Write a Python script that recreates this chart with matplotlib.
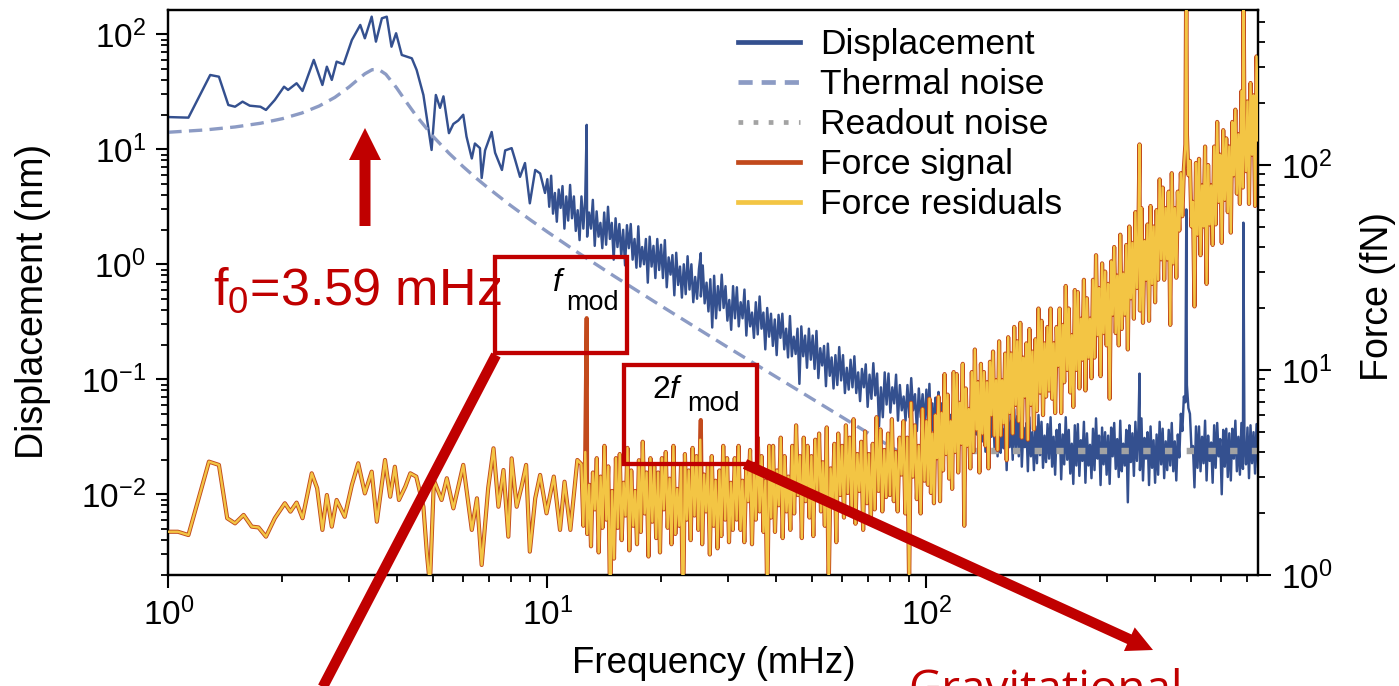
import numpy as np
import matplotlib
matplotlib.use("Agg")
import matplotlib.pyplot as plt
from matplotlib.patches import Rectangle, FancyArrow
from matplotlib.lines import Line2D

plt.rcParams.update({
    "font.family": ["Liberation Sans", "DejaVu Sans"],
    "mathtext.fontset": "custom",
    "mathtext.rm": "Liberation Sans",
    "mathtext.it": "Liberation Sans:italic",
    "mathtext.default": "regular",
    "axes.linewidth": 1.6,
})

# ---------------- data ----------------
# Displacement, low-frequency part: frequencies (mHz) and log10(nm)
disp_lf_freq = [1.00, 1.13, 1.29, 1.36, 1.44, 1.50, 1.57, 1.64, 1.75, 1.81,
                1.91, 2.02, 2.07, 2.18, 2.26, 2.42, 2.55, 2.62, 2.70, 2.78,
                2.90, 3.05, 3.21, 3.30, 3.44, 3.53, 3.66, 3.77, 3.88, 3.99,
                4.13, 4.39, 4.52, 4.71, 4.95, 5.08, 5.21, 5.32, 5.50, 5.65,
                5.82, 6.00, 6.12, 6.32, 6.44, 6.64, 6.71, 6.85, 7.13, 7.28,
                7.59, 7.74, 8.05, 8.22, 8.47, 8.73, 8.99, 9.29, 9.57, 9.86]
disp_lf_log10 = [1.28, 1.275, 1.646, 1.631, 1.385, 1.370, 1.414, 1.379, 1.370, 1.342,
                 1.429, 1.544, 1.516, 1.574, 1.507, 1.777, 1.559, 1.718, 1.603, 1.762,
                 1.739, 1.950, 2.081, 1.965, 2.153, 1.936, 2.139, 2.153, 1.892, 2.009,
                 1.820, 1.791, 1.690, 1.472, 0.994, 1.472, 1.36, 1.46, 1.14, 1.22,
                 1.25, 1.30, 1.11, 0.92, 1.05, 1.01, 0.75, 0.99, 1.15, 0.97,
                 0.82, 0.99, 1.01, 0.91, 0.76, 0.88, 0.53, 0.82, 0.79, 0.62]
# Displacement 10-100 mHz (log-spaced samples), log10(nm)
disp_mid_log10 = [
    0.74, 0.50, 0.77, 0.44, 0.62, 0.37, 0.65, 0.49, 0.68, 0.31, 0.59, 0.38, 0.69, 0.40, 0.59, 0.29, 0.47, 0.21, 0.59, 0.31,
    0.58, 0.24, 0.45, 0.31, 0.56, 0.16, 0.46, 0.24, 0.36, 0.14, 0.45, 0.17, 0.50, 0.22, 0.36, 0.04, 0.40, 0.15, 0.35, 0.07,
    0.30, -0.01, 0.34, 0.14, 0.35, 0.04, 0.22, -0.03, 0.33, -0.02, 0.15, 0.00, 0.22, -0.16, 0.24, -0.02, 0.16, -0.12, 0.22, -0.05,
    0.17, -0.12, 0.21, -0.20, 0.06, -0.09, 0.08, -0.27, 0.10, -0.18, -0.02, -0.29, 0.00, -0.26, 0.07, -0.22, 0.00, -0.33, -0.11, -0.30,
    -0.04, -0.28, -0.01, -0.34, -0.16, -0.41, -0.13, -0.55, -0.10, -0.47, -0.19, -0.40, -0.09, -0.38, -0.19, -0.49, -0.31, -0.57, -0.19, -0.47,
    -0.20, -0.54, -0.33, -0.47, -0.22, -0.62, -0.32, -0.54, -0.42, -0.64, -0.33, -0.61, -0.28, -0.56, -0.42, -0.74, -0.38, -0.63, -0.43, -0.71,
    -0.48, -0.79, -0.44, -0.64, -0.43, -0.74, -0.56, -0.81, -0.45, -0.80, -0.63, -0.78, -0.56, -1.04, -0.54, -0.80, -0.62, -0.90, -0.56, -0.83,
    -0.62, -0.91, -0.58, -0.99, -0.73, -0.88, -0.71, -1.06, -0.69, -0.97, -0.81, -1.08, -0.79, -1.05, -0.72, -1.01, -0.79, -1.12, -0.90, -1.09,
    -0.83, -1.07, -0.80, -1.12, -0.94, -1.19, -0.91, -1.07, -0.87, -1.24, -0.96, -1.17, -0.86, -1.14, -0.95, -1.41, -1.07, -1.33, -0.94, -1.22,
    -0.95, -1.29, -1.07, -1.21, -0.96, -1.36, -1.05, -1.27, -1.15, -1.36, -1.05, -1.33, -0.99, -1.27, -1.13, -1.45, -1.08, -1.33, -1.13, -1.40]
# Displacement 100-750 mHz (log-spaced samples), log10(nm)
disp_hi_log10 = [
    -1.09, -1.39, -1.04, -1.45, -1.21, -1.53, -1.16, -1.36, -1.11, -1.57, -1.21, -1.47, -1.07, -1.43, -1.18, -1.55, -1.31, -1.64, -1.15, -1.50,
    -1.14, -1.56, -1.29, -1.46, -1.14, -1.63, -1.24, -1.51, -1.35, -1.62, -1.22, -1.56, -1.14, -1.48, -1.30, -1.69, -1.23, -1.54, -1.28, -1.63,
    -1.32, -1.70, -1.26, -1.50, -1.22, -1.61, -1.37, -1.67, -1.22, -1.64, -1.43, -1.60, -1.31, -1.79, -1.28, -1.59, -1.36, -1.70, -1.26, -1.60,
    -1.32, -1.67, -1.25, -1.76, -1.42, -1.59, -1.38, -1.80, -1.33, -1.67, -1.46, -1.79, -1.41, -1.73, -1.31, -1.66, -1.37, -1.77, -1.49, -1.72,
    -1.39, -1.69, -1.33, -1.76, -1.50, -1.83, -1.44, -1.64, -1.39, -1.87, -1.48, -1.74, -1.33, -1.70, -1.44, -1.82, -1.56, -1.91, -1.40, -1.75,
    -1.39, -1.84, -1.53, -1.71, -1.37, -1.90, -1.47, -1.75, -1.57, -1.86, -1.43, -1.79, -1.34, -1.69, -1.49, -1.92, -1.42, -1.74, -1.46, -1.83,
    -1.49, -1.91, -1.42, -1.67, -1.38, -1.78, -1.52, -1.85, -1.36, -1.80, -1.56, -1.75, -1.44, -2.07, -1.40, -1.72, -1.47, -1.84, -1.37, -1.71,
    -1.42, -1.79, -1.34, -1.88, -1.51, -1.69, -1.46, -1.92, -1.41, -1.77, -1.53, -1.90, -1.48, -1.83, -1.37, -1.74, -1.43, -1.86, -1.54, -1.79,
    -1.44, -1.75, -1.38, -1.80, -1.54, -1.88, -1.48, -1.68, -1.30, -1.45, -1.15, -1.20, -1.05, -1.25, -1.30, -1.60, -1.58, -1.94, -1.41, -1.77,
    -1.41, -1.80, -1.50, -1.73, -1.36, -1.88, -1.49, -1.71, -1.55, -1.90, -1.40, -1.77, -1.38, -1.67, -1.52, -2.00, -1.44, -1.76, -1.43, -1.85,
    -1.47, -1.88, -1.43, -1.69, -1.36, -1.80, -1.50, -1.83, -1.38, -1.78, -1.55, -1.74, -1.42, -1.86, -1.40, -1.73, -1.46, -1.82, -1.39, -1.76]

# Force, low-frequency part: frequencies (mHz) and log10(fN)
force_lf_freq = [1.00, 1.06, 1.13, 1.28, 1.36, 1.43, 1.50, 1.58, 1.66, 1.73,
                 1.81, 1.91, 2.03, 2.10, 2.18, 2.26, 2.39, 2.47, 2.55, 2.62,
                 2.70, 2.78, 2.92, 3.05, 3.17, 3.30, 3.44, 3.55, 3.73, 3.85,
                 3.96, 4.06, 4.22, 4.35, 4.51, 4.71, 4.81, 4.90, 5.02, 5.26,
                 5.43, 5.65, 6.00, 6.32, 6.52, 6.71, 6.98, 7.21, 7.43, 7.66,
                 7.89, 8.05, 8.30, 8.55, 8.79, 8.99, 9.29, 9.57, 9.95, 10.4,
                 10.8, 11.1, 11.5, 12.0]
force_lf_log10 = [0.211, 0.211, 0.195, 0.553, 0.537, 0.277, 0.252, 0.293, 0.236, 0.232,
                  0.187, 0.277, 0.350, 0.309, 0.353, 0.277, 0.496, 0.423, 0.220, 0.390,
                  0.236, 0.366, 0.284, 0.439, 0.545, 0.398, 0.504, 0.260, 0.561, 0.382,
                  0.528, 0.366, 0.431, 0.496, 0.480, 0.333, 0.106, -0.05, 0.463, 0.366,
                  0.472, 0.325, 0.537, 0.220, 0.374, 0.049, 0.423, 0.618, 0.333, 0.512,
                  0.187, 0.569, 0.333, 0.431, 0.537, 0.114, 0.374, 0.488, 0.301, 0.480,
                  0.220, 0.455, 0.220, 0.561]
# Force 12.3-100 mHz (log-spaced samples), log10(fN)
force_mid_log10 = [
    0.54, 0.24, 0.60, 0.20, 0.44, 0.14, 0.50, 0.32, 0.57, 0.11, 0.48, 0.23, 0.63, 0.27, 0.53, -0.18, 0.41, 0.08, 0.57, 0.23,
    0.59, 0.17, 0.45, 0.29, 0.62, 0.12, 0.51, 0.24, 0.41, 0.15, 0.56, 0.21, 0.65, 0.30, 0.50, 0.09, 0.57, 0.26, 0.53, 0.18,
    0.50, 0.11, 0.57, 0.32, 0.60, 0.23, 0.47, 0.15, 0.63, 0.20, 0.42, 0.24, 0.54, -0.26, 0.59, 0.27, 0.51, 0.17, 0.62, 0.29,
    0.58, 0.22, 0.66, 0.15, 0.49, 0.31, 0.54, 0.10, 0.58, 0.24, 0.46, 0.13, 0.51, 0.19, 0.63, 0.27, 0.57, 0.16, 0.45, 0.22,
    0.57, 0.27, 0.63, 0.22, 0.46, 0.16, 0.52, 0.36, 0.61, 0.15, 0.52, 0.27, 0.67, 0.31, 0.58, 0.21, 0.46, -0.13, 0.63, 0.28,
    0.63, 0.21, 0.51, 0.34, 0.67, 0.18, 0.58, 0.31, 0.48, 0.22, 0.63, 0.30, 0.73, 0.39, 0.58, 0.18, 0.67, 0.36, 0.63, 0.28,
    0.58, 0.19, 0.66, 0.40, 0.69, 0.31, 0.55, 0.24, 0.72, -0.08, 0.52, 0.34, 0.64, 0.16, 0.69, 0.39, 0.63, 0.28, 0.73, 0.40,
    0.67, 0.31, 0.76, 0.25, 0.59, 0.41, 0.65, 0.22, 0.70, 0.35, 0.59, 0.26, 0.64, 0.32, 0.77, 0.41, 0.71, 0.31, 0.61, 0.38,
    0.69, 0.39, 0.76, 0.36, 0.60, 0.31, 0.67, 0.49, 0.75, 0.30, 0.67, -0.05, 0.84, 0.48, 0.73, 0.37, 0.63, 0.30, 0.81, 0.46]
# Force 100-750 mHz (log-spaced samples), log10(fN)
force_hi_log10 = [
    0.75, 0.44, 0.86, 0.40, 0.69, 0.35, 0.78, 0.57, 0.87, 0.36, 0.79, 0.51, 0.98, 0.59, 0.88, 0.47, 0.75, 0.42, 0.99, 0.60,
    0.98, 0.50, 0.84, 0.64, 1.03, 0.24, 0.91, 0.63, 0.81, 0.52, 0.99, 0.60, 1.10, 0.71, 0.94, 0.50, 1.03, 0.69, 0.99, 0.63,
    0.94, 0.52, 1.04, 0.78, 1.09, 0.68, 0.95, 0.61, 1.14, 0.68, 0.95, 0.74, 1.08, 0.56, 1.16, 0.79, 1.08, 0.69, 1.21, 0.83,
    1.14, 0.75, 1.23, 0.67, 1.06, 0.87, 1.13, 0.66, 1.20, 0.83, 1.09, 0.71, 1.15, 0.80, 1.30, 0.89, 1.24, 0.78, 1.13, 0.87,
    1.21, 0.90, 1.30, 0.86, 1.13, 0.79, 1.21, 1.02, 1.30, 0.79, 1.22, 0.94, 1.41, 1.00, 1.30, 0.89, 1.17, 0.82, 1.39, 1.00,
    1.38, 0.91, 1.25, 1.05, 1.44, 0.90, 1.35, 1.06, 1.25, 0.96, 1.44, 1.06, 1.56, 1.17, 1.40, 0.97, 1.52, 1.18, 1.48, 1.12,
    1.42, 0.86, 1.53, 1.27, 1.60, 1.18, 1.46, 1.12, 1.66, 1.20, 1.47, 1.27, 1.61, 1.10, 1.70, 1.35, 1.62, 1.25, 1.77, 1.40,
    1.68, 1.29, 1.79, 1.23, 1.63, 1.44, 1.71, 1.24, 1.80, 1.42, 1.70, 1.33, 1.78, 1.44, 1.93, 1.54, 1.89, 1.44, 1.79, 1.54,
    1.87, 1.22, 1.96, 1.52, 1.79, 1.45, 1.87, 1.68, 1.96, 1.75, 1.98, 2.10, 2.15, 1.95, 2.02, 1.70, 1.82, 1.31, 2.01, 1.66,
    2.03, 1.56, 1.90, 1.70, 2.09, 1.42, 2.00, 1.71, 1.90, 1.61, 2.09, 1.71, 2.21, 1.82, 2.05, 1.62, 2.17, 1.83, 2.13, 1.77,
    2.09, 1.67, 2.21, 1.95, 2.27, 1.86, 2.15, 1.81, 2.36, 1.89, 2.17, 1.97, 2.31, 1.81, 2.40, 2.05, 2.34, 1.80, 2.53, 2.12]

# Narrow lines: modulation (f_mod, 2 f_mod) and instrumental lines
mod_freq = [12.7, 25.4]
disp_mod_peak = [16.3, 1.25]      # nm
force_mod_peak = [17.9, 5.7]      # fN
line_freq = [365.0, 485.0, 686.0]
disp_line_peak = [0.112, 3.0, 2.3]         # nm
force_line_peak = [126.0, 1000.0, 1000.0]  # fN

# Thermal noise curve (mHz, log10 nm)
thermal_freq = [1.0, 1.25, 1.5, 1.75, 2.0, 2.25, 2.5, 2.75, 3.0, 3.15,
                3.3, 3.45, 3.59, 3.75, 4.0, 4.25, 4.5, 5.0, 5.5, 6.0,
                6.5, 7.0, 8.0, 9.0, 10, 12, 15, 20, 30, 40,
                50, 70, 100]
thermal_log10 = [1.148, 1.168, 1.194, 1.226, 1.266, 1.315, 1.376, 1.451, 1.542, 1.601,
                 1.656, 1.692, 1.694, 1.652, 1.535, 1.409, 1.295, 1.110, 0.966, 0.848,
                 0.747, 0.660, 0.511, 0.388, 0.282, 0.105, -0.103, -0.364, -0.724, -0.976,
                 -1.171, -1.465, -1.775]
# Readout noise floor
readout_freq = [100.0, 750.0]
readout_nm = [0.0237, 0.0237]

labels = ["Displacement", "Thermal noise", "Readout noise", "Force signal", "Force residuals"]

# ---------------- assemble series ----------------
def with_peaks(f_base, v_base, f_pk, v_pk):
    f = np.concatenate([np.asarray(f_base, float), np.asarray(f_pk, float)])
    v = np.concatenate([np.asarray(v_base, float), np.asarray(v_pk, float)])
    o = np.argsort(f, kind="stable")
    return f[o], v[o]

disp_f = np.concatenate([disp_lf_freq,
                         np.geomspace(10, 100, len(disp_mid_log10), endpoint=False),
                         np.geomspace(100, 750, len(disp_hi_log10))])
disp_v = 10 ** np.concatenate([disp_lf_log10, disp_mid_log10, disp_hi_log10])
disp_f, disp_v = with_peaks(disp_f, disp_v, mod_freq + line_freq, disp_mod_peak + disp_line_peak)

force_f = np.concatenate([force_lf_freq,
                          np.geomspace(12.3, 100, len(force_mid_log10), endpoint=False),
                          np.geomspace(100, 750, len(force_hi_log10))])
force_v = 10 ** np.concatenate([force_lf_log10, force_mid_log10, force_hi_log10])
resid_f, resid_v = with_peaks(force_f, force_v, line_freq, force_line_peak)
sig_f, sig_v = with_peaks(resid_f, resid_v, mod_freq, force_mod_peak)

thermal_v = 10 ** np.asarray(thermal_log10)

# ---------------- figure ----------------
W, H = 1399, 686
fig = plt.figure(figsize=(W / 100, H / 100), dpi=100)
ax = fig.add_axes([168.3 / W, (H - 575) / H, 1090 / W, 565 / H])
ax.set_xscale("log")
ax.set_yscale("log")
ax.set_xlim(1.0, 751)
ax.set_ylim(10 ** -2.702, 10 ** 2.211)

c_disp = "#34508f"
c_therm = "#8c9bc4"
c_read = "#a3a3a3"
c_sig = "#c24a1c"
c_res = "#f3c544"

ax.plot(disp_f, disp_v, color=c_disp, lw=1.75, zorder=2)
ax.plot(thermal_freq, thermal_v, color=c_therm, lw=2.4, ls=(0, (4, 2.2)), zorder=3)
ax.plot(readout_freq, readout_nm, color=c_read, lw=4.6, ls=(0, (1.15, 2.25)), zorder=4)

ax2 = ax.twinx()
ax2.set_yscale("log")
ax2.set_ylim(1, 10 ** 2.756)
ax2.plot(sig_f, sig_v, color=c_sig, lw=3.0, zorder=2)
ax2.plot(resid_f, resid_v, color=c_res, lw=1.7, zorder=3)

for a in (ax, ax2):
    a.tick_params(which="major", direction="out", length=9, width=1.5, labelsize=24, pad=7, colors="black")
    a.tick_params(which="minor", direction="out", length=5, width=1.3)
    for s in a.spines.values():
        s.set_linewidth(1.6)
ax.tick_params(axis="y", which="both", right=False)

fig.text(43 / W, 1 - 301 / H, "Displacement (nm)", rotation=90, ha="center", va="baseline",
         rotation_mode="anchor", fontsize=27)
fig.text(1388 / W, 1 - 296.5 / H, "Force (fN)", rotation=90, ha="center", va="baseline",
         rotation_mode="anchor", fontsize=27)
fig.text(714 / W, 1 - 673 / H, "Frequency (mHz)", ha="center", va="baseline", fontsize=26.5)

# legend proxies (thicker sample lines as in the reference)
h1 = Line2D([], [], color=c_disp, lw=3.4)
h2 = Line2D([], [], color=c_therm, lw=3.4, ls=(0, (3.0, 1.9)))
h3 = Line2D([], [], color=c_read, lw=3.4, ls=(0, (1.0, 2.2)))
h4 = Line2D([], [], color=c_sig, lw=3.4)
h5 = Line2D([], [], color=c_res, lw=3.4)
fig.legend([h1, h2, h3, h4, h5], labels, loc="upper left",
           bbox_to_anchor=(738 / W, 1 - 28 / H), frameon=False, fontsize=25.5,
           handlelength=1.75, handletextpad=0.56, labelspacing=0.2,
           borderpad=0, borderaxespad=0)

# ---------------- annotation overlay (pixel coordinates) ----------------
red = "#c00000"
ov = fig.add_axes([0, 0, 1, 1])
ov.set_xlim(0, W)
ov.set_ylim(H, 0)
ov.axis("off")
ov.set_zorder(10)
ov.patch.set_visible(False)

ov.add_patch(FancyArrow(365, 226, 0, -98, width=11, head_width=32, head_length=32,
                        length_includes_head=True, color=red, lw=0))
ov.text(213, 305, "f$_0$=3.59 mHz", fontsize=37.5, color=red, ha="left", va="baseline")

ov.add_patch(Rectangle((495, 257), 132, 96, fill=False, ec=red, lw=3.1))
ov.add_patch(Rectangle((624, 365), 133, 99, fill=False, ec=red, lw=3.1))
ov.text(553, 291, "f", style="italic", fontsize=23, ha="left", va="baseline")
ov.text(566, 310, "mod", fontsize=19.5, ha="left", va="baseline")
ov.text(652, 398, "2", fontsize=23, ha="left", va="baseline")
ov.text(670, 398, "f", style="italic", fontsize=23, ha="left", va="baseline")
ov.text(687, 411, "mod", fontsize=19.5, ha="left", va="baseline")

ov.plot([496, 316], [355, 700], color=red, lw=7.5, solid_capstyle="butt")
ov.add_patch(FancyArrow(745, 464, 408, 186, width=10.5, head_width=26, head_length=26,
                        length_includes_head=True, color=red, lw=0))
ov.text(908, 703, "Gravitational", fontsize=33, color=red, family=["Open Sans", "DejaVu Sans"],
        ha="left", va="baseline")

fig.savefig("out.png", dpi=100)
